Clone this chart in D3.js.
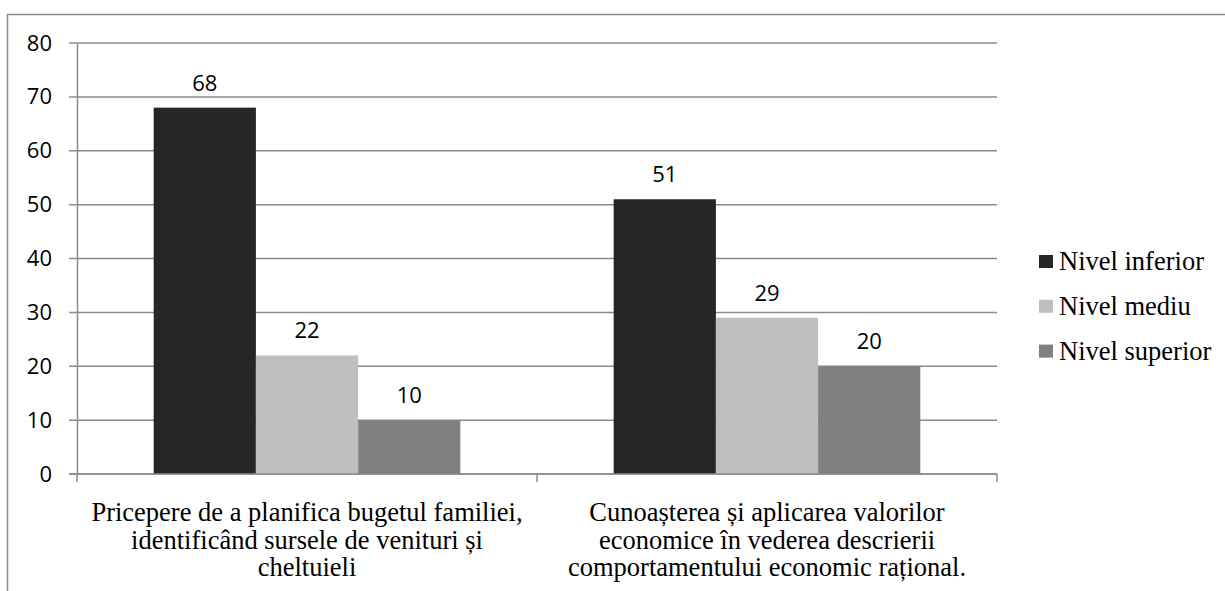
<!DOCTYPE html>
<html>
<head>
<meta charset="utf-8">
<script src="https://cdn.jsdelivr.net/npm/d3@7"></script>
<style>
  body { margin: 0; background: #fff; }
  .num { font-family: 'Open Sans', sans-serif; font-size: 22px; fill: #000; }
  .txt { font-family: 'Liberation Serif', 'Times New Roman', serif; font-size: 26.5px; fill: #000; }
</style>
</head>
<body>
<div id="chart"></div>
<script>
// data
var categories = [
    [ 'Pricepere de a planifica bugetul familiei,', 'identificând sursele de venituri și', 'cheltuieli' ],
    [ 'Cunoașterea și aplicarea valorilor', 'economice în vederea descrierii', 'comportamentului economic rațional.' ]
];
var seriesNames = [ 'Nivel inferior', 'Nivel mediu', 'Nivel superior' ];
var seriesValues = [
    [ 68, 51 ],
    [ 22, 29 ],
    [ 10, 20 ]
];
var yTicks = [ 0, 10, 20, 30, 40, 50, 60, 70, 80 ];
var colors = [ '#262626', '#bfbfbf', '#808080' ];

// layout
var width = 1225, height = 591;
var plot = { left: 77, top: 43, right: 997, bottom: 474 };

var svg = d3.select( '#chart' )
            .append( 'svg' )
            .attr( 'width', width )
            .attr( 'height', height );

// outer frame (clipped by the page at right and bottom)
svg.append( 'rect' )
   .attr( 'x', 7.5 )
   .attr( 'y', 14.5 )
   .attr( 'width', width + 20 )
   .attr( 'height', height + 20 )
   .attr( 'fill', 'none' )
   .attr( 'stroke', '#8c8c8c' )
   .attr( 'stroke-width', 1.5 );

var y = d3.scaleLinear()
          .domain( [ 0, 80 ] )
          .range( [ plot.bottom, plot.top ] );

var x0 = d3.scaleBand()
           .domain( d3.range( categories.length ) )
           .range( [ plot.left, plot.right ] );

var x1 = d3.scaleBand()
           .domain( d3.range( seriesNames.length ) )
           .range( [ 0, x0.bandwidth() ] )
           .paddingOuter( 0.75 )
           .paddingInner( 0 );

// grid lines
svg.append( 'g' )
   .selectAll( 'line' )
   .data( yTicks )
   .enter()
   .append( 'line' )
   .attr( 'x1', plot.left - 8 )
   .attr( 'x2', plot.right )
   .attr( 'y1', function( d ) { return y( d ); } )
   .attr( 'y2', function( d ) { return y( d ); } )
   .attr( 'stroke', '#8c8c8c' )
   .attr( 'stroke-width', 1.5 );

// y axis
var yAxis = svg.append( 'g' )
   .attr( 'transform', 'translate(' + plot.left + ',0)' )
   .call( d3.axisLeft( y ).tickValues( yTicks ).tickSize( 0 ).tickPadding( 25 ) );
yAxis.attr( 'font-family', null ).attr( 'font-size', null );
yAxis.select( '.domain' ).attr( 'stroke', '#8c8c8c' ).attr( 'stroke-width', 1.5 );
yAxis.selectAll( 'text' )
     .attr( 'class', 'num' )
     .attr( 'fill', null );

// x axis ticks
var catEdges = d3.range( categories.length + 1 ).map( function( i ) {
    return i < categories.length ? x0( i ) : x0( i - 1 ) + x0.bandwidth();
});
svg.append( 'g' )
   .selectAll( 'line' )
   .data( catEdges )
   .enter()
   .append( 'line' )
   .attr( 'x1', function( d ) { return d; } )
   .attr( 'x2', function( d ) { return d; } )
   .attr( 'y1', plot.bottom )
   .attr( 'y2', plot.bottom + 8 )
   .attr( 'stroke', '#8c8c8c' )
   .attr( 'stroke-width', 1.5 );

// bars
seriesNames.forEach( function( name, s ) {
    var g = svg.append( 'g' );
    g.selectAll( 'rect' )
     .data( seriesValues[ s ] )
     .enter()
     .append( 'rect' )
     .attr( 'x', function( d, i ) { return x0( i ) + x1( s ); } )
     .attr( 'y', function( d ) { return y( d ); } )
     .attr( 'width', x1.bandwidth() )
     .attr( 'height', function( d ) { return y( 0 ) - y( d ); } )
     .attr( 'fill', colors[ s ] );

    g.selectAll( 'text' )
     .data( seriesValues[ s ] )
     .enter()
     .append( 'text' )
     .attr( 'class', 'num' )
     .attr( 'x', function( d, i ) { return x0( i ) + x1( s ) + x1.bandwidth() / 2; } )
     .attr( 'y', function( d ) { return y( d ) - 17; } )
     .attr( 'text-anchor', 'middle' )
     .text( function( d ) { return d; } );
});

// x axis line on top of bars
svg.append( 'line' )
   .attr( 'x1', plot.left - 8 )
   .attr( 'x2', plot.right )
   .attr( 'y1', plot.bottom )
   .attr( 'y2', plot.bottom )
   .attr( 'stroke', '#8c8c8c' )
   .attr( 'stroke-width', 1.5 );

// category labels
categories.forEach( function( lines, i ) {
    var t = svg.append( 'text' )
               .attr( 'class', 'txt' )
               .attr( 'text-anchor', 'middle' );
    lines.forEach( function( line, j ) {
        t.append( 'tspan' )
         .attr( 'x', x0( i ) + x0.bandwidth() / 2 )
         .attr( 'y', 521 + j * 27.5 )
         .text( line );
    });
});

// legend
var legend = svg.append( 'g' )
                .selectAll( 'g' )
                .data( seriesNames )
                .enter()
                .append( 'g' )
                .attr( 'transform', function( d, i ) { return 'translate(1039,' + ( 255 + i * 44.8 ) + ')'; } );
legend.append( 'rect' )
      .attr( 'width', 14 )
      .attr( 'height', 13 )
      .attr( 'fill', function( d, i ) { return colors[ i ]; } );
legend.append( 'text' )
      .attr( 'class', 'txt' )
      .attr( 'x', 20 )
      .attr( 'y', 15 )
      .text( function( d ) { return d; } );
</script>
</body>
</html>
